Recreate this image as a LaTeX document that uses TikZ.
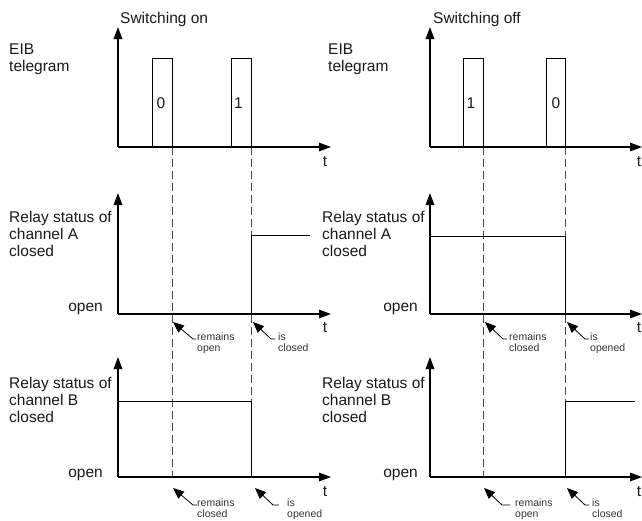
\documentclass[tikz,border=0pt]{standalone}
\usepackage{fontspec}
\setmainfont{Liberation Sans}
\usetikzlibrary{arrows.meta}
\begin{document}
\begin{tikzpicture}[x=1pt,y=-1pt,
  axis/.style={line width=1.5pt,-{Triangle[length=12pt,width=8.5pt]}},
  sig/.style={line width=0.8pt},
  guide/.style={line width=1pt,dash pattern=on 8pt off 4pt,black!70},
  lbl/.style={font=\fontsize{15.5}{17}\selectfont,align=left,inner sep=0pt,text=black!90},
  small/.style={font=\fontsize{10.5}{11.5}\selectfont,align=left,inner sep=0pt,text=black!80},
  note/.style={line width=0.8pt,{Triangle[length=11pt,width=9pt]}-},
]
\useasboundingbox (0,0) rectangle (642,520);

% ---------- left column: switching on ----------
\coordinate (LO1) at (118,147); \coordinate (LY1) at (118,27); \coordinate (LX1) at (331,147);
\coordinate (LO2) at (118,314); \coordinate (LY2) at (118,193); \coordinate (LX2) at (331,314);
\coordinate (LO3) at (118,477); \coordinate (LY3) at (118,357); \coordinate (LX3) at (331,477);

\node[lbl,anchor=base west] (swon) at (120,23.5) {Switching on};
\node[lbl,anchor=north west] (eibL) at (9,43.5) {EIB\\telegram};
\node[lbl,anchor=north west] (relAL) at (9,211.4) {Relay status of\\channel A\\closed};
\node[lbl,anchor=north west] (relBL) at (9,377.4) {Relay status of\\channel B\\closed};
\node[lbl,anchor=base east] (openAL) at (103,311) {open};
\node[lbl,anchor=base east] (openBL) at (103,477) {open};
\node[lbl,anchor=base] (t1L) at (325,166) {t};
\node[lbl,anchor=base] (t2L) at (325,332) {t};
\node[lbl,anchor=base] (t3L) at (325,496) {t};

% guides
\draw[guide] (172,147) -- (172,477);
\draw[guide] (251,147) -- (251,477);

% pulses
\draw[sig] (152,147) -- (152,58) -- (172,58) -- (172,147);
\draw[sig] (231,147) -- (231,58) -- (251,58) -- (251,147);
\node[lbl,anchor=base] (p0L) at (161,108.5) {0};
\node[lbl,anchor=base] (p1L) at (238.5,108.5) {1};

% channel signals
\draw[sig] (251,314) -- (251,235) -- (310,235);
\draw[sig] (118,401) -- (251,401) -- (251,477);

% axes
\draw[axis] (LO1) -- (LY1); \draw[axis] (LO1) -- (LX1);
\draw[axis] (LO2) -- (LY2); \draw[axis] (LO2) -- (LX2);
\draw[axis] (LO3) -- (LY3); \draw[axis] (LO3) -- (LX3);

% annotations
\draw[note] (173,322) -- (193,339) -- (196,339);
\node[small,anchor=north west] (a1) at (197,332.2) {remains\\open};
\draw[note] (253,322) -- (271,339) -- (275,339);
\node[small,anchor=north west] (a2) at (278,332.2) {is\\closed};
\draw[note] (173,488) -- (193,505) -- (197,505);
\node[small,anchor=north west] (b1) at (197,498.2) {remains\\closed};
\draw[note] (255,488) -- (273,505) -- (279,505);
\node[small,anchor=north west] (b2) at (287,498.2) {is\\opened};

% ---------- right column: switching off ----------
\coordinate (RO1) at (430,147); \coordinate (RY1) at (430,27); \coordinate (RX1) at (642,147);
\coordinate (RO2) at (430,314); \coordinate (RY2) at (430,193); \coordinate (RX2) at (642,314);
\coordinate (RO3) at (430,477); \coordinate (RY3) at (430,357); \coordinate (RX3) at (642,477);

\node[lbl,anchor=base west] (swoff) at (433,23.5) {Switching off};
\node[lbl,anchor=north west] (eibR) at (328,43.5) {EIB\\telegram};
\node[lbl,anchor=north west] (relAR) at (322,211.4) {Relay status of\\channel A\\closed};
\node[lbl,anchor=north west] (relBR) at (322,377.4) {Relay status of\\channel B\\closed};
\node[lbl,anchor=base east] (openAR) at (418,311) {open};
\node[lbl,anchor=base east] (openBR) at (418,477) {open};
\node[lbl,anchor=base] (t1R) at (639,166) {t};
\node[lbl,anchor=base] (t2R) at (639,332) {t};
\node[lbl,anchor=base] (t3R) at (639,496) {t};

\draw[guide] (483,147) -- (483,477);
\draw[guide] (565,147) -- (565,477);

\draw[sig] (463,147) -- (463,58) -- (483,58) -- (483,147);
\draw[sig] (546,147) -- (546,58) -- (565,58) -- (565,147);
\node[lbl,anchor=base] (p1R) at (471,108.5) {1};
\node[lbl,anchor=base] (p0R) at (556,108.5) {0};

\draw[sig] (430,236) -- (565,236) -- (565,314);
\draw[sig] (565,477) -- (565,401) -- (635,401);

\draw[axis] (RO1) -- (RY1); \draw[axis] (RO1) -- (RX1);
\draw[axis] (RO2) -- (RY2); \draw[axis] (RO2) -- (RX2);
\draw[axis] (RO3) -- (RY3); \draw[axis] (RO3) -- (RX3);

\draw[note] (485,322) -- (503,339) -- (507,339);
\node[small,anchor=north west] (a3) at (509,332.2) {remains\\closed};
\draw[note] (567,322) -- (585,339) -- (589,339);
\node[small,anchor=north west] (a4) at (590,332.2) {is\\opened};
\draw[note] (484,488) -- (502,505) -- (510,505);
\node[small,anchor=north west] (b3) at (515,498.2) {remains\\open};
\draw[note] (567,488) -- (585,505) -- (589,505);
\node[small,anchor=north west] (b4) at (592,498.2) {is\\closed};
\end{tikzpicture}
\end{document}
